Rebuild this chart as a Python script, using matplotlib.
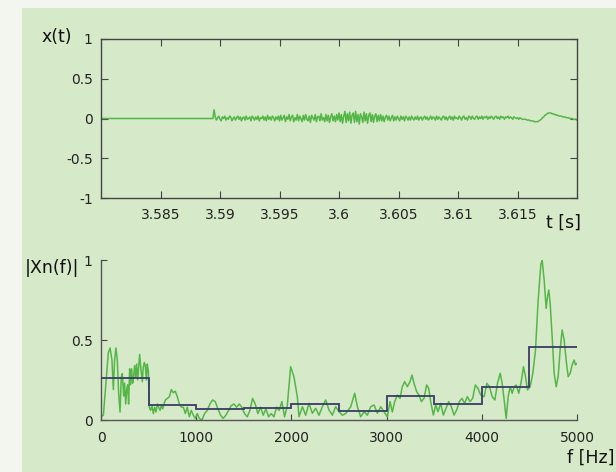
import numpy as np
import matplotlib.pyplot as plt
from matplotlib.patches import Rectangle

# Signal temporel x(t) (lu sur la figure, pas 0.1 ms)
t_start = 3.58
t_step = 0.0001
x_quiet = [0.0] * 95
x_noisy = [
    # 3.5895 - 3.595
    0.11, 0.02, -0.02, 0.01, 0.03, -0.01, -0.03, 0.02, 0.00, 0.03,
    -0.02, 0.01, -0.01, 0.03, 0.02, -0.03, 0.00, 0.02, -0.02, 0.01,
    0.03, -0.01, 0.02, -0.03, 0.01, 0.02, -0.02, 0.03, -0.01, 0.00,
    0.02, -0.03, 0.03, 0.01, -0.02, 0.02, -0.01, 0.03, -0.03, 0.01,
    0.00, 0.03, -0.02, 0.02, -0.03, 0.04, -0.01, 0.02, -0.02, 0.03,
    0.01, -0.03, 0.02, -0.01, 0.03,
    # 3.595 - 3.600
    -0.03, 0.04, -0.02, 0.01, 0.04, -0.04, 0.02, -0.01, 0.05, -0.03,
    0.02, 0.04, -0.04, 0.01, -0.02, 0.05, -0.03, 0.03, 0.00, -0.04,
    0.04, -0.02, 0.05, -0.01, -0.03, 0.03, -0.05, 0.04, 0.01, -0.02,
    0.05, -0.04, 0.02, 0.03, -0.03, 0.06, -0.02, 0.01, -0.04, 0.05,
    -0.03, 0.04, -0.05, 0.02, 0.06, -0.03, 0.03, -0.04, 0.05, -0.02,
    # 3.600 - 3.6035
    0.07, -0.04, 0.05, -0.06, 0.03, 0.09, -0.05, 0.06, -0.03, 0.08,
    -0.06, 0.04, 0.07, -0.05, 0.09, -0.04, 0.05, -0.07, 0.06, 0.02,
    -0.05, 0.08, -0.03, 0.06, -0.06, 0.04, 0.07, -0.04, 0.05, -0.05,
    0.03, 0.06, -0.04, 0.04, -0.03,
    # 3.6035 - 3.606
    0.05, -0.03, 0.03, -0.04, 0.02, 0.04, -0.02, 0.03, -0.03, 0.01,
    0.04, -0.03, 0.02, -0.02, 0.03, 0.00, -0.03, 0.03, -0.01, 0.02,
    -0.03, 0.03, 0.01, -0.02, 0.02,
    # 3.606 - 3.6155
    -0.02, 0.03, 0.00, -0.02, 0.02, -0.01, 0.03, -0.02, 0.01, 0.02,
    -0.02, 0.01, 0.03, -0.01, 0.02, -0.02, 0.00, 0.03, -0.01, 0.02,
    0.01, -0.02, 0.03, -0.01, 0.02, 0.00, -0.02, 0.02, 0.03, -0.01,
    0.02, -0.02, 0.01, 0.03, -0.01, 0.02, -0.02, 0.03, 0.00, 0.01,
    -0.01, 0.03, 0.01, -0.02, 0.02, 0.03, -0.01, 0.01, -0.02, 0.03,
    0.02, -0.01, 0.03, 0.00, -0.01, 0.02, 0.03, -0.01, 0.02, 0.00,
    0.03, -0.01, 0.02, 0.01, 0.03, -0.01, 0.02, 0.00, 0.03, 0.01,
    -0.01, 0.02, 0.03, 0.00, 0.02, -0.01, 0.03, 0.01, 0.02, -0.01,
    0.02, 0.01, 0.03, 0.00, 0.02, 0.01, -0.01, 0.02, 0.01, 0.00,
    0.01, -0.01, 0.01, 0.00, -0.01,
    # 3.6155 - 3.620
    -0.01, -0.01, -0.01, -0.02, -0.02, -0.02, -0.03, -0.03, -0.03, -0.04,
    -0.04, -0.04, -0.04, -0.03, -0.02, -0.01, 0.01, 0.02, 0.04, 0.05,
    0.06, 0.07, 0.07, 0.07, 0.06, 0.06, 0.05, 0.05, 0.04, 0.04,
    0.03, 0.03, 0.03, 0.02, 0.02, 0.02, 0.01, 0.01, 0.01, 0.00,
    0.00, 0.00, -0.01, -0.01, -0.01, -0.02,
]
x_signal = np.array(x_quiet + x_noisy)
t = t_start + t_step * np.arange(len(x_signal))

# Spectre |Xn(f)|
freq = [
    0, 25, 52, 77, 95, 115, 130, 143, 157, 171, 185, 200, 213, 224, 238, 248,
    259, 270, 280, 290, 301, 311, 322, 332, 343, 353, 364, 374, 385, 395, 406,
    420, 434, 444, 455, 465, 476, 486, 497, 507, 521, 535, 550, 563, 578, 592,
    605, 620, 634, 648, 662, 676, 697, 718, 739, 760, 780, 802, 823, 844, 865,
    886, 906, 928, 948, 970, 990, 1012, 1032, 1060, 1088, 1116, 1144, 1172,
    1200, 1228, 1256, 1284, 1312, 1340, 1368, 1396, 1424, 1452, 1480, 1508,
    1536, 1564, 1592, 1620, 1648, 1676, 1704, 1732, 1760, 1788, 1816, 1844,
    1872, 1900, 1928, 1957, 1992, 2027, 2062, 2080, 2115, 2150, 2185, 2220,
    2255, 2290, 2325, 2360, 2395, 2430, 2465, 2500, 2535, 2570, 2623, 2665,
    2693, 2728, 2763, 2798, 2833, 2868, 2903, 2938, 2973, 3008, 3036, 3060,
    3085, 3113, 3141, 3165, 3190, 3218, 3246, 3267, 3288, 3316, 3340, 3365,
    3393, 3421, 3442, 3463, 3491, 3516, 3540, 3568, 3596, 3624, 3652, 3680,
    3708, 3736, 3764, 3792, 3820, 3848, 3876, 3904, 3932, 3960, 3988, 4025,
    4053, 4081, 4109, 4137, 4165, 4193, 4214, 4235, 4256, 4277, 4298, 4319,
    4340, 4361, 4389, 4417, 4438, 4459, 4480, 4508, 4536, 4564, 4592, 4620,
    4634, 4655, 4676, 4690, 4704, 4718, 4739, 4760, 4781, 4802, 4823, 4844,
    4865, 4886, 4907, 4928, 4949, 4970, 4984, 5000,
]
spectrum = [
    0.02, 0.03, 0.23, 0.42, 0.45, 0.375, 0.19, 0.375, 0.45, 0.375, 0.17, 0.05,
    0.27, 0.29, 0.15, 0.23, 0.10, 0.19, 0.22, 0.10, 0.32, 0.22, 0.32, 0.23,
    0.27, 0.34, 0.27, 0.35, 0.25, 0.33, 0.41, 0.31, 0.24, 0.33, 0.36, 0.34,
    0.25, 0.35, 0.31, 0.08, 0.06, 0.09, 0.04, 0.08, 0.05, 0.10, 0.08, 0.06,
    0.09, 0.07, 0.10, 0.125, 0.135, 0.145, 0.19, 0.17, 0.18, 0.145, 0.10, 0.08,
    0.08, 0.04, 0.08, 0.02, 0.06, 0.03, 0.01, 0.04, 0.01, 0.0, 0.04, 0.06,
    0.10, 0.125, 0.115, 0.07, 0.03, 0.01, 0.03, 0.06, 0.09, 0.10, 0.08, 0.10,
    0.08, 0.04, 0.02, 0.06, 0.135, 0.10, 0.04, 0.08, 0.03, 0.07, 0.02, 0.04,
    0.02, 0.08, 0.06, 0.115, 0.02, 0.09, 0.333, 0.27, 0.146, 0.02, 0.083, 0.03,
    0.104, 0.042, 0.073, 0.03, 0.083, 0.125, 0.063, 0.03, 0.083, 0.052, 0.03,
    0.04, 0.083, 0.167, 0.083, 0.02, 0.052, 0.03, 0.083, 0.094, 0.042, 0.083,
    0.052, 0.02, 0.115, 0.05, 0.115, 0.156, 0.135, 0.208, 0.24, 0.208, 0.24,
    0.281, 0.229, 0.177, 0.156, 0.115, 0.135, 0.219, 0.198, 0.115, 0.031,
    0.094, 0.052, 0.104, 0.031, 0.073, 0.115, 0.083, 0.031, 0.063, 0.115,
    0.135, 0.104, 0.146, 0.115, 0.135, 0.219, 0.198, 0.156, 0.146, 0.229,
    0.208, 0.146, 0.125, 0.229, 0.292, 0.229, 0.125, 0.01, 0.146, 0.208, 0.167,
    0.208, 0.219, 0.167, 0.25, 0.333, 0.271, 0.188, 0.208, 0.292, 0.438, 0.75,
    0.97, 1.0, 0.875, 0.698, 0.771, 0.812, 0.729, 0.521, 0.292, 0.208, 0.271,
    0.438, 0.563, 0.5, 0.375, 0.271, 0.292, 0.344, 0.375, 0.344, 0.354,
]

# Moyennes par bande de 500 Hz
band_edges = [0, 500, 1000, 1500, 2000, 2500, 3000, 3500, 4000, 4500, 5000]
band_means = [0.26, 0.095, 0.07, 0.077, 0.098, 0.057, 0.15, 0.098, 0.204, 0.455]

GREEN = "#55b648"
NAVY = "#3a3c68"
BG = "#d6e9c9"
W, H = 616, 472

fig = plt.figure(figsize=(W / 100, H / 100), dpi=100, facecolor="#f3f5ef")
fig.patches.append(Rectangle((22 / W, 0), 1, 1 - 8 / H, transform=fig.transFigure,
                             facecolor=BG, edgecolor="none", zorder=-10))

# --- x(t)
ax1 = fig.add_axes([101 / W, 1 - 198 / H, 476 / W, 159 / H])
ax1.set_facecolor("none")
ax1.plot(t, x_signal, color=GREEN, lw=1.1)
ax1.set_xlim(3.58, 3.62)
ax1.set_ylim(-1, 1)
ax1.set_xticks([3.585, 3.59, 3.595, 3.6, 3.605, 3.61, 3.615])
ax1.set_xticklabels(["3.585", "3.59", "3.595", "3.6", "3.605", "3.61", "3.615"])
ax1.set_yticks([-1, -0.5, 0, 0.5, 1])
ax1.set_yticklabels(["-1", "-0.5", "0", "0.5", "1"])
ax1.tick_params(direction="in", top=True, right=True, length=5, width=0.8,
                color="#444444", labelsize=10, labelcolor="#222222")
ax1.tick_params(axis="x", pad=7)
ax1.tick_params(axis="y", pad=6)
for s in ax1.spines.values():
    s.set_color("#444444")
    s.set_linewidth(1.0)

# --- |Xn(f)|
ax2 = fig.add_axes([101 / W, 1 - 420 / H, 476 / W, 160 / H])
ax2.set_facecolor("none")
ax2.plot(freq, spectrum, color=GREEN, lw=1.1, zorder=2)
ax2.stairs(band_means, band_edges, baseline=None, color=NAVY, lw=1.3, zorder=3)
ax2.set_xlim(0, 5000)
ax2.set_ylim(0, 1)
ax2.set_xticks([0, 1000, 2000, 3000, 4000, 5000])
ax2.set_yticks([0, 0.5, 1])
ax2.set_yticklabels(["0", "0.5", "1"])
ax2.spines["top"].set_visible(False)
ax2.spines["right"].set_visible(False)
for s in ("left", "bottom"):
    ax2.spines[s].set_color("#555555")
    ax2.spines[s].set_linewidth(1.0)
ax2.tick_params(direction="in", length=4, width=0.8, color="#444444",
                labelsize=10, labelcolor="#222222")
ax2.tick_params(axis="x", pad=8)
ax2.tick_params(axis="y", pad=6)

# Libellés des axes
fig.text(57 / W, 1 - 37 / H, "x(t)", fontsize=12.5, ha="center", va="center", color="#111111")
fig.text(563 / W, 1 - 223 / H, "t [s]", fontsize=12.5, ha="center", va="center", color="#111111")
fig.text(52 / W, 1 - 268 / H, "|Xn(f)|", fontsize=12.5, ha="center", va="center", color="#111111")
fig.text(591 / W, 1 - 458 / H, "f [Hz]", fontsize=12.5, ha="center", va="center", color="#111111")

fig.savefig("out.png", dpi=100, facecolor=fig.get_facecolor())
